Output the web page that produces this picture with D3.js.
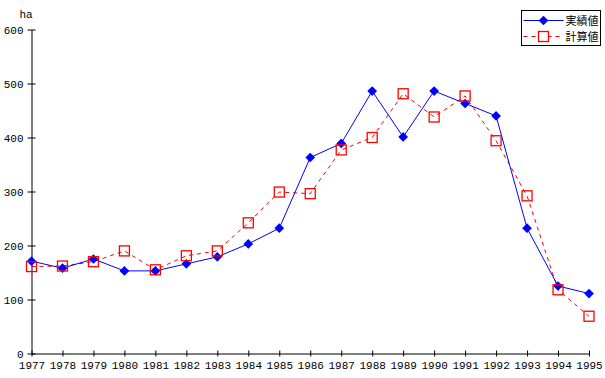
<!DOCTYPE html>
<html lang="ja">
<head>
<meta charset="UTF-8">
<title>実績値と計算値</title>
<script src="https://cdn.jsdelivr.net/npm/d3@7"></script>
<style>
  body { margin: 0; background: #fff; }
  text { font-family: "Liberation Mono", "Noto Sans CJK JP", monospace; font-size: 11px; fill: #000; }
  .jp { font-family: "Noto Sans CJK JP", sans-serif; font-size: 11px; }
</style>
</head>
<body>
<div id="chart"></div>
<script>
// years along the x axis
var years = [1977, 1978, 1979, 1980, 1981, 1982, 1983, 1984, 1985, 1986,
             1987, 1988, 1989, 1990, 1991, 1992, 1993, 1994, 1995];
// 実績値 (actual)
var actual = [171, 158, 175, 153, 153, 166, 179, 203, 232, 363,
              389, 486, 401, 486, 463, 440, 232, 125, 111];
// 計算値 (calculated)
var calc = [161, 162, 170, 190, 155, 181, 190, 242, 299, 296,
            377, 400, 481, 438, 477, 394, 292, 118, 69];
var yTicks = [0, 100, 200, 300, 400, 500, 600];
var seriesNames = ["実績値", "計算値"];

var width = 605, height = 378;
var margin = {top: 29.5, right: 16, bottom: 24.5, left: 31.5};

var svg = d3.select("#chart").append("svg")
    .attr("width", width)
    .attr("height", height);

var x = d3.scalePoint()
    .domain(years)
    .range([margin.left, width - margin.right]);

var y = d3.scaleLinear()
    .domain([0, 600])
    .range([height - margin.bottom, margin.top]);

// x axis
var xAxis = svg.append("g")
    .attr("transform", "translate(0," + y(0) + ")")
    .call(d3.axisBottom(x).tickSize(0).tickPadding(6));
xAxis.attr("font-family", null).attr("font-size", null);
xAxis.select(".domain").attr("stroke", "#000");
xAxis.selectAll(".tick line").attr("y1", -3).attr("y2", 3).attr("stroke", "#000");
xAxis.selectAll("text").attr("dy", "0.9em");

// y axis
var yAxis = svg.append("g")
    .attr("transform", "translate(" + x(years[0]) + ",0)")
    .call(d3.axisLeft(y).tickValues(yTicks).tickSize(0).tickPadding(8));
yAxis.attr("font-family", null).attr("font-size", null);
yAxis.select(".domain").attr("stroke", "#000");
yAxis.selectAll(".tick line").attr("x1", -4).attr("x2", 4).attr("stroke", "#000");

svg.append("text")
    .attr("x", 26)
    .attr("y", 18)
    .attr("text-anchor", "middle")
    .text("ha");

// calculated series (red dashed, hollow squares)
var line = d3.line()
    .x(function(d, i) { return x(years[i]); })
    .y(function(d) { return y(d); });

svg.append("path")
    .datum(calc)
    .attr("d", line)
    .attr("fill", "none")
    .attr("stroke", "#ff0000")
    .attr("stroke-width", 1)
    .attr("stroke-dasharray", "4,4");

// actual series (blue solid, diamonds)
svg.append("path")
    .datum(actual)
    .attr("d", line)
    .attr("fill", "none")
    .attr("stroke", "#0000ff")
    .attr("stroke-width", 1);

var diamond = d3.symbol().type(d3.symbolDiamond2).size(60);

svg.append("g").selectAll("path")
    .data(actual)
    .enter().append("path")
    .attr("d", diamond)
    .attr("transform", function(d, i) { return "translate(" + x(years[i]) + "," + y(d) + ")"; })
    .attr("fill", "#0000ff");

svg.append("g").selectAll("rect")
    .data(calc)
    .enter().append("rect")
    .attr("x", function(d, i) { return x(years[i]) - 5; })
    .attr("y", function(d) { return y(d) - 5; })
    .attr("width", 10)
    .attr("height", 10)
    .attr("fill", "none")
    .attr("stroke", "#ff0000")
    .attr("stroke-width", 1.3);

// legend
var lg = svg.append("g").attr("transform", "translate(521.5,10.5)");
lg.append("rect")
    .attr("width", 79)
    .attr("height", 35)
    .attr("fill", "#fff")
    .attr("stroke", "#000");

lg.append("line")
    .attr("x1", 2).attr("x2", 42).attr("y1", 10).attr("y2", 10)
    .attr("stroke", "#0000ff");
lg.append("path")
    .attr("d", diamond)
    .attr("transform", "translate(22,10)")
    .attr("fill", "#0000ff");
lg.append("line")
    .attr("x1", 2).attr("x2", 42).attr("y1", 26).attr("y2", 26)
    .attr("stroke", "#ff0000")
    .attr("stroke-dasharray", "4,4");
lg.append("rect")
    .attr("x", 17).attr("y", 21).attr("width", 10).attr("height", 10)
    .attr("fill", "#fff")
    .attr("stroke", "#ff0000")
    .attr("stroke-width", 1.3);

lg.selectAll("text.jp")
    .data(seriesNames)
    .enter().append("text")
    .attr("class", "jp")
    .attr("x", 44)
    .attr("y", function(d, i) { return 14 + i * 16; })
    .text(function(d) { return d; });
</script>
</body>
</html>
